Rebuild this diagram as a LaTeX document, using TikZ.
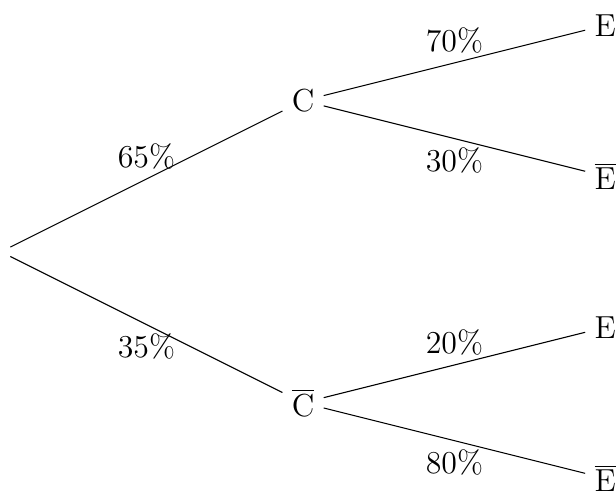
\documentclass[tikz,border=0pt]{standalone}
\begin{document}
\begin{tikzpicture}[
  tnode/.style={font=\large, inner sep=0.3333em},
  branch/.style={draw=black, line width=0.4pt},
  prob/.style={font=\large}
]
\useasboundingbox (-0.013,-3.156) rectangle (8.144,3.334);
\node[tnode] (root) at (0,0) {};
\node[tnode] (c) at (4,2) {C};
\node[tnode] (cb) at (4,-2) {$\overline{\mathrm{C}}$};
\node[tnode] (e1) at (8,3) {E};
\node[tnode] (e2) at (8,1) {$\overline{\mathrm{E}}$};
\node[tnode] (e3) at (8,-1) {E};
\node[tnode] (e4) at (8,-3) {$\overline{\mathrm{E}}$};
\draw[branch] (root) -- node[prob, above] (p1) {65\%} (c);
\draw[branch] (root) -- node[prob, below] (p2) {35\%} (cb);
\draw[branch] (c) -- node[prob, above] (p3) {70\%} (e1);
\draw[branch] (c) -- node[prob, below] (p4) {30\%} (e2);
\draw[branch] (cb) -- node[prob, above] (p5) {20\%} (e3);
\draw[branch] (cb) -- node[prob, below] (p6) {80\%} (e4);
\end{tikzpicture}
\end{document}
